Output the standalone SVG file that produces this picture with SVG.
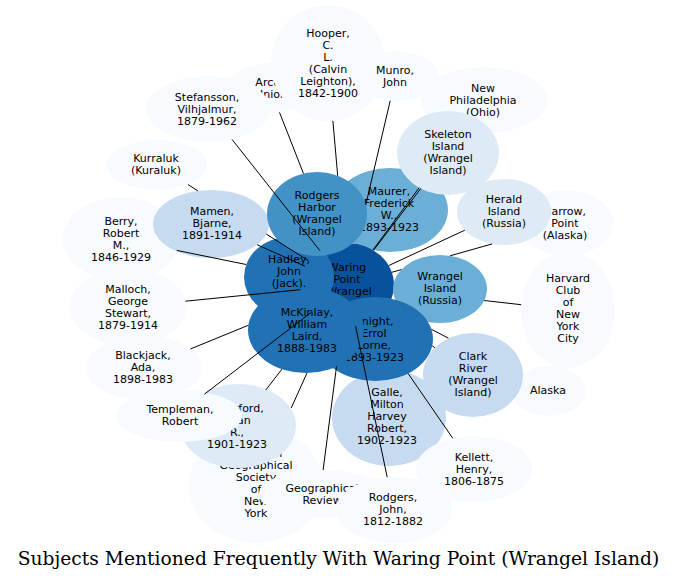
<svg xmlns="http://www.w3.org/2000/svg" width="677" height="580" viewBox="0 0 677 580">
<style>
.c0{fill:#f7fbff}.c1{fill:#deebf7}.c2{fill:#c6dbef}.c4{fill:#6baed6}.c5{fill:#4292c6}.c6{fill:#2171b5}.c7{fill:#08519c}
text{font-family:"DejaVu Sans",Verdana,sans-serif;font-size:11px;text-anchor:middle;fill:#000}
.title{font-family:"DejaVu Serif","Liberation Serif",serif;font-size:18.7px}
#connectors path{stroke:#000;stroke-width:1;fill:none}
</style>
<rect width="677" height="580" fill="#fff"/>
<g id="arctic-union"><ellipse class="c0" cx="270" cy="88" rx="42" ry="25"/><text x="271" y="86"><tspan x="271">Arctic</tspan><tspan x="271" dy="12">Union</tspan></text></g>
<g id="stefansson"><ellipse class="c0" cx="208" cy="109" rx="62" ry="33"/><text x="207" y="100.5"><tspan x="207">Stefansson,</tspan><tspan x="207" dy="12">Vilhjalmur,</tspan><tspan x="207" dy="12">1879-1962</tspan></text></g>
<g id="hooper"><ellipse class="c0" cx="328" cy="63" rx="57" ry="58"/><text x="328" y="37"><tspan x="328">Hooper,</tspan><tspan x="328" dy="12">C.</tspan><tspan x="328" dy="12">L.</tspan><tspan x="328" dy="12">(Calvin</tspan><tspan x="328" dy="12">Leighton),</tspan><tspan x="328" dy="12">1842-1900</tspan></text></g>
<g id="munro"><ellipse class="c0" cx="396" cy="76" rx="42" ry="25"/><text x="395" y="74"><tspan x="395">Munro,</tspan><tspan x="395" dy="12">John</tspan></text></g>
<g id="new-philadelphia"><ellipse class="c0" cx="484" cy="100" rx="63" ry="33"/><text x="483" y="92"><tspan x="483">New</tspan><tspan x="483" dy="12">Philadelphia</tspan><tspan x="483" dy="12">(Ohio)</tspan></text></g>
<g id="barrow"><ellipse class="c0" cx="566" cy="223" rx="47" ry="33"/><text x="565" y="215"><tspan x="565">Barrow,</tspan><tspan x="565" dy="12">Point</tspan><tspan x="565" dy="12">(Alaska)</tspan></text></g>
<g id="herald"><ellipse class="c1" cx="504" cy="212" rx="47" ry="33"/><text x="504" y="203"><tspan x="504">Herald</tspan><tspan x="504" dy="12">Island</tspan><tspan x="504" dy="12">(Russia)</tspan></text></g>
<g id="harvard"><ellipse class="c0" cx="568" cy="310" rx="47" ry="58"/><text x="568" y="282"><tspan x="568">Harvard</tspan><tspan x="568" dy="12">Club</tspan><tspan x="568" dy="12">of</tspan><tspan x="568" dy="12">New</tspan><tspan x="568" dy="12">York</tspan><tspan x="568" dy="12">City</tspan></text></g>
<g id="alaska"><ellipse class="c0" cx="549" cy="391" rx="37" ry="25"/><text x="548" y="394">Alaska</text></g>
<g id="kurraluk"><ellipse class="c0" cx="157" cy="165" rx="50" ry="25"/><text x="156" y="161.5"><tspan x="156">Kurraluk</tspan><tspan x="156" dy="12">(Kuraluk)</tspan></text></g>
<g id="berry"><ellipse class="c0" cx="121" cy="239" rx="58" ry="42"/><text x="121" y="225"><tspan x="121">Berry,</tspan><tspan x="121" dy="12">Robert</tspan><tspan x="121" dy="12">M.,</tspan><tspan x="121" dy="12">1846-1929</tspan></text></g>
<g id="malloch"><ellipse class="c0" cx="128" cy="307" rx="58" ry="39"/><text x="128" y="293"><tspan x="128">Malloch,</tspan><tspan x="128" dy="12">George</tspan><tspan x="128" dy="12">Stewart,</tspan><tspan x="128" dy="12">1879-1914</tspan></text></g>
<g id="blackjack"><ellipse class="c0" cx="144" cy="368" rx="58" ry="32"/><text x="143" y="359"><tspan x="143">Blackjack,</tspan><tspan x="143" dy="12">Ada,</tspan><tspan x="143" dy="12">1898-1983</tspan></text></g>
<g id="american-geographical-society"><ellipse class="c0" cx="256" cy="485" rx="67" ry="58"/><text x="256" y="457"><tspan x="256">American</tspan><tspan x="256" dy="12">Geographical</tspan><tspan x="256" dy="12">Society</tspan><tspan x="256" dy="12">of</tspan><tspan x="256" dy="12">New</tspan><tspan x="256" dy="12">York</tspan></text></g>
<g id="crawford"><ellipse class="c1" cx="238" cy="426" rx="58" ry="42"/><text x="237" y="412"><tspan x="237">Crawford,</tspan><tspan x="237" dy="12">Allan</tspan><tspan x="237" dy="12">R.,</tspan><tspan x="237" dy="12">1901-1923</tspan></text></g>
<g id="templeman"><ellipse class="c0" cx="179" cy="416" rx="63" ry="26"/><text x="180" y="413"><tspan x="180">Templeman,</tspan><tspan x="180" dy="12">Robert</tspan></text></g>
<g id="geographical-review"><ellipse class="c0" cx="321" cy="494" rx="62" ry="24"/><text x="322" y="492"><tspan x="322">Geographical</tspan><tspan x="322" dy="12">Review</tspan></text></g>
<g id="rodgers-john"><ellipse class="c0" cx="394" cy="510" rx="58" ry="33"/><text x="393" y="501"><tspan x="393">Rodgers,</tspan><tspan x="393" dy="12">John,</tspan><tspan x="393" dy="12">1812-1882</tspan></text></g>
<g id="galle"><ellipse class="c2" cx="389" cy="418" rx="57" ry="48"/><text x="387" y="396"><tspan x="387">Galle,</tspan><tspan x="387" dy="12">Milton</tspan><tspan x="387" dy="12">Harvey</tspan><tspan x="387" dy="12">Robert,</tspan><tspan x="387" dy="12">1902-1923</tspan></text></g>
<g id="kellett"><ellipse class="c0" cx="474" cy="469" rx="58" ry="33"/><text x="474" y="461"><tspan x="474">Kellett,</tspan><tspan x="474" dy="12">Henry,</tspan><tspan x="474" dy="12">1806-1875</tspan></text></g>
<g id="clark-river"><ellipse class="c2" cx="473" cy="375" rx="50" ry="42"/><text x="473" y="360"><tspan x="473">Clark</tspan><tspan x="473" dy="12">River</tspan><tspan x="473" dy="12">(Wrangel</tspan><tspan x="473" dy="12">Island)</tspan></text></g>
<g id="maurer"><ellipse class="c4" cx="390" cy="210" rx="58" ry="42"/><text x="389" y="195"><tspan x="389">Maurer,</tspan><tspan x="389" dy="12">Frederick</tspan><tspan x="389" dy="12">W.,</tspan><tspan x="389" dy="12">1893-1923</tspan></text></g>
<g id="skeleton-island"><ellipse class="c1" cx="448" cy="153" rx="51" ry="42"/><text x="448" y="138"><tspan x="448">Skeleton</tspan><tspan x="448" dy="12">Island</tspan><tspan x="448" dy="12">(Wrangel</tspan><tspan x="448" dy="12">Island)</tspan></text></g>
<g id="waring-point"><ellipse class="c7" cx="347" cy="285" rx="47" ry="42"/><text x="347" y="271"><tspan x="347">Waring</tspan><tspan x="347" dy="12">Point</tspan><tspan x="347" dy="12">(Wrangel</tspan><tspan x="347" dy="12">Island)</tspan></text></g>
<g id="wrangel-island-russia"><ellipse class="c4" cx="440" cy="289" rx="47" ry="34"/><text x="440" y="280"><tspan x="440">Wrangel</tspan><tspan x="440" dy="12">Island</tspan><tspan x="440" dy="12">(Russia)</tspan></text></g>
<g id="hadley"><ellipse class="c6" cx="289" cy="277" rx="45" ry="40"/><text x="289" y="263"><tspan x="289">Hadley,</tspan><tspan x="289" dy="12">John</tspan><tspan x="289" dy="12">(Jack),</tspan><tspan x="289" dy="12">-1918</tspan></text></g>
<g id="mamen"><ellipse class="c2" cx="211" cy="224" rx="58" ry="34"/><text x="212" y="215"><tspan x="212">Mamen,</tspan><tspan x="212" dy="12">Bjarne,</tspan><tspan x="212" dy="12">1891-1914</tspan></text></g>
<g id="rodgers-harbor"><ellipse class="c5" cx="317" cy="214" rx="50" ry="42"/><text x="317" y="199"><tspan x="317">Rodgers</tspan><tspan x="317" dy="12">Harbor</tspan><tspan x="317" dy="12">(Wrangel</tspan><tspan x="317" dy="12">Island)</tspan></text></g>
<g id="knight"><ellipse class="c6" cx="375" cy="339" rx="58" ry="42"/><text x="374" y="325"><tspan x="374">Knight,</tspan><tspan x="374" dy="12">Errol</tspan><tspan x="374" dy="12">Lorne,</tspan><tspan x="374" dy="12">1893-1923</tspan></text></g>
<g id="mckinlay"><ellipse class="c6" cx="306" cy="330" rx="58" ry="43"/><text x="307" y="316"><tspan x="307">McKinlay,</tspan><tspan x="307" dy="12">William</tspan><tspan x="307" dy="12">Laird,</tspan><tspan x="307" dy="12">1888-1983</tspan></text></g>
<g id="connectors">
<path d="M232,139.4L319.9,250.7"/>
<path d="M279.5,112.4L303.5,173.6"/>
<path d="M332.9,120.8L337.7,175.8"/>
<path d="M390.2,100.8L365.8,204.7"/>
<path d="M419.1,187.7L372.9,250"/>
<path d="M420.8,188.5L373.5,250.3"/>
<path d="M464.8,230.2L388.7,265.6"/>
<path d="M492.2,243.9L450.1,255.8M401.3,269.6L391.8,272.3"/>
<path d="M521.2,304.7L484.2,300.5"/>
<path d="M448.4,338.2L431.4,329.3"/>
<path d="M434.9,347.8L432.2,345.8"/>
<path d="M452.8,438.3L408.1,373.5"/>
<path d="M387.2,477.2L355.6,326.3"/>
<path d="M323.1,470L336.5,366.5"/>
<path d="M291.2,408L307,373"/>
<path d="M265.8,390L281.9,369.2"/>
<path d="M204.4,394.2L311.3,312.3"/>
<path d="M190.6,348.9L248.3,325.3"/>
<path d="M185.4,301.2L300.3,289.7"/>
<path d="M176.8,250.4L246.2,264.5"/>
<path d="M188,184.6L197.9,190.9M266.3,234.1L308.6,260.8"/>
<path d="M257.1,244.7L305,266.2"/>
</g>
<text class="title" x="338.5" y="565">Subjects Mentioned Frequently With Waring Point (Wrangel Island)</text>
</svg>
